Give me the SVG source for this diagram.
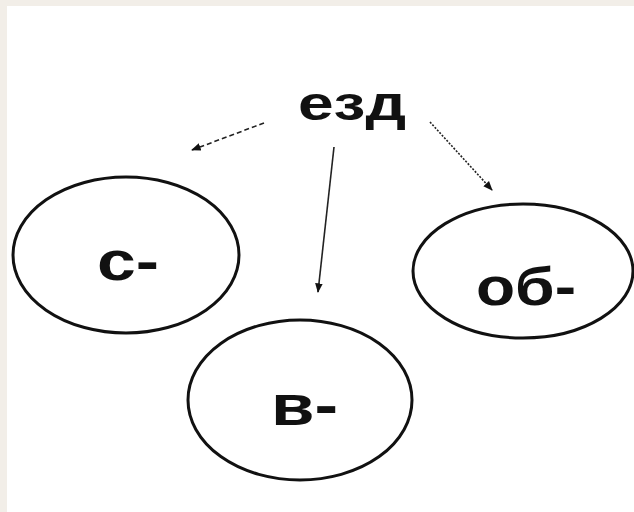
<svg xmlns="http://www.w3.org/2000/svg" width="634" height="512" viewBox="0 0 634 512">
<style>
.node ellipse{fill:#ffffff;stroke:#111;stroke-width:3}
.lbl{font-family:"Liberation Sans",Arial,sans-serif;font-weight:bold;fill:#111}
.conn line{stroke:#222;stroke-width:1.6;fill:none}
</style>
<defs>
<marker id="ah" viewBox="0 0 10 10" refX="9" refY="5" markerWidth="6" markerHeight="6" orient="auto" markerUnits="strokeWidth">
<path d="M0,1 L10,5 L0,9 z" fill="#111"/>
</marker>
</defs>
<rect x="0" y="0" width="634" height="512" fill="#f2eee8"/>
<rect x="7" y="6" width="627" height="506" fill="#ffffff"/>
<g id="root">
<text class="lbl" x="298" y="120" font-size="48" textLength="108" lengthAdjust="spacingAndGlyphs">езд</text>
</g>
<g id="node-s" class="node">
<ellipse cx="126" cy="255" rx="113" ry="78"/>
<text class="lbl" x="97" y="280" font-size="56" textLength="62" lengthAdjust="spacingAndGlyphs">с-</text>
</g>
<g id="node-ob" class="node">
<ellipse cx="523" cy="271" rx="110" ry="67"/>
<text class="lbl" x="476" y="305" font-size="54" textLength="100" lengthAdjust="spacingAndGlyphs">об-</text>
</g>
<g id="node-v" class="node">
<ellipse cx="300" cy="400" rx="112" ry="80"/>
<text class="lbl" x="271" y="425" font-size="58" textLength="67" lengthAdjust="spacingAndGlyphs">в-</text>
</g>
<g id="connectors" class="conn">
<line x1="264" y1="123" x2="192" y2="150" stroke-dasharray="5,3" marker-end="url(#ah)"/>
<line x1="334" y1="147" x2="318" y2="292" marker-end="url(#ah)"/>
<line x1="430" y1="122" x2="492" y2="190" stroke-dasharray="2,1.5" marker-end="url(#ah)"/>
</g>
</svg>
